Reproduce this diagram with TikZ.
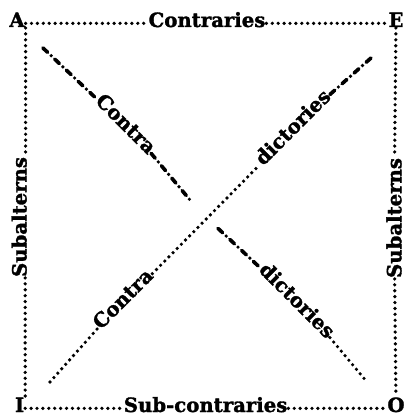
\documentclass[tikz,border=0pt]{standalone}
\usepackage{fontspec}
\setmainfont{DejaVu Serif}[BoldFeatures={FakeBold=1.6}]
\usetikzlibrary{positioning}

\begin{document}
\begin{tikzpicture}[
    every node/.style={font=\fontsize{14}{16}\selectfont\bfseries, inner sep=0.5pt},
    corner/.style={anchor=base},
    label/.style={anchor=base},
    dotline/.style={line width=2.6pt, line cap=round, dash pattern=on 0pt off 4.2pt},
    mixline/.style={line width=2.6pt, line cap=round, dash pattern=on 4.5pt off 3.5pt on 0pt off 3.5pt}
  ]
  \useasboundingbox (-5.1,-5.2) rectangle (5.1,5.2);

  % corners
  \node[corner, anchor=base east] (A) at (-4.46,4.525) {A};
  \node[corner] (E) at (4.8,4.525) {E};
  \node[corner, anchor=base east] (I) at (-4.47,-5.1) {I};
  \node[corner] (O) at (4.8,-5.1) {O};

  % side labels
  \node[label] (contr) at (0.075,4.525) {Contraries};
  \node[label] (subc) at (0.04,-5.1) {Sub-contraries};
  \node[rotate=90] (subL) at (-4.62,-0.225) {Subalterns};
  \node[rotate=90] (subR) at (4.75,-0.25) {Subalterns};

  % diagonal labels
  \node[label, rotate=-45] (contraAO) at (-2.07,1.985) {Contra};
  \node[label, rotate=-45] (dictAO) at (2.21,-2.43) {dictories};
  \node[label, rotate=45] (contraIE) at (-1.91,-2.39) {Contra};
  \node[label, rotate=45] (dictIE) at (2.34,1.9) {dictories};

  \coordinate (aoStart) at (-4.025,4.0);
  \coordinate (aoGapA) at (-0.35,0.2);
  \coordinate (aoGapB) at (0.35,-0.51);
  \coordinate (aoEnd) at (4.075,-4.35);
  \coordinate (ieStart) at (-3.85,-4.35);
  \coordinate (ieEnd) at (4.175,3.75);

  % square
  \draw[dotline] (A.mid east) -- (contr.mid west);
  \draw[dotline] (contr.mid east) -- (E.mid west);
  \draw[dotline] (I.mid east) -- (subc.mid west);
  \draw[dotline] (subc.mid east) -- (O.mid west);
  \draw[dotline] (A.south east) -- (A.south east |- subL.east);
  \draw[dotline] (I.north east |- subL.west) -- (I.north east);
  \draw[dotline] (E) -- (subR);
  \draw[dotline] (subR) -- (O);

  % contradictories
  \draw[mixline] (aoStart) -- (contraAO.mid west);
  \draw[mixline] (contraAO.mid east) -- (aoGapA);
  \draw[mixline] (aoGapB) -- (dictAO.mid west);
  \draw[dotline] (dictAO.mid east) -- (aoEnd);
  \draw[dotline] (ieStart) -- (contraIE.mid west);
  \draw[dotline] (contraIE.mid east) -- (dictIE.mid west);
  \draw[mixline] (dictIE.mid east) -- (ieEnd);
\end{tikzpicture}
\end{document}
